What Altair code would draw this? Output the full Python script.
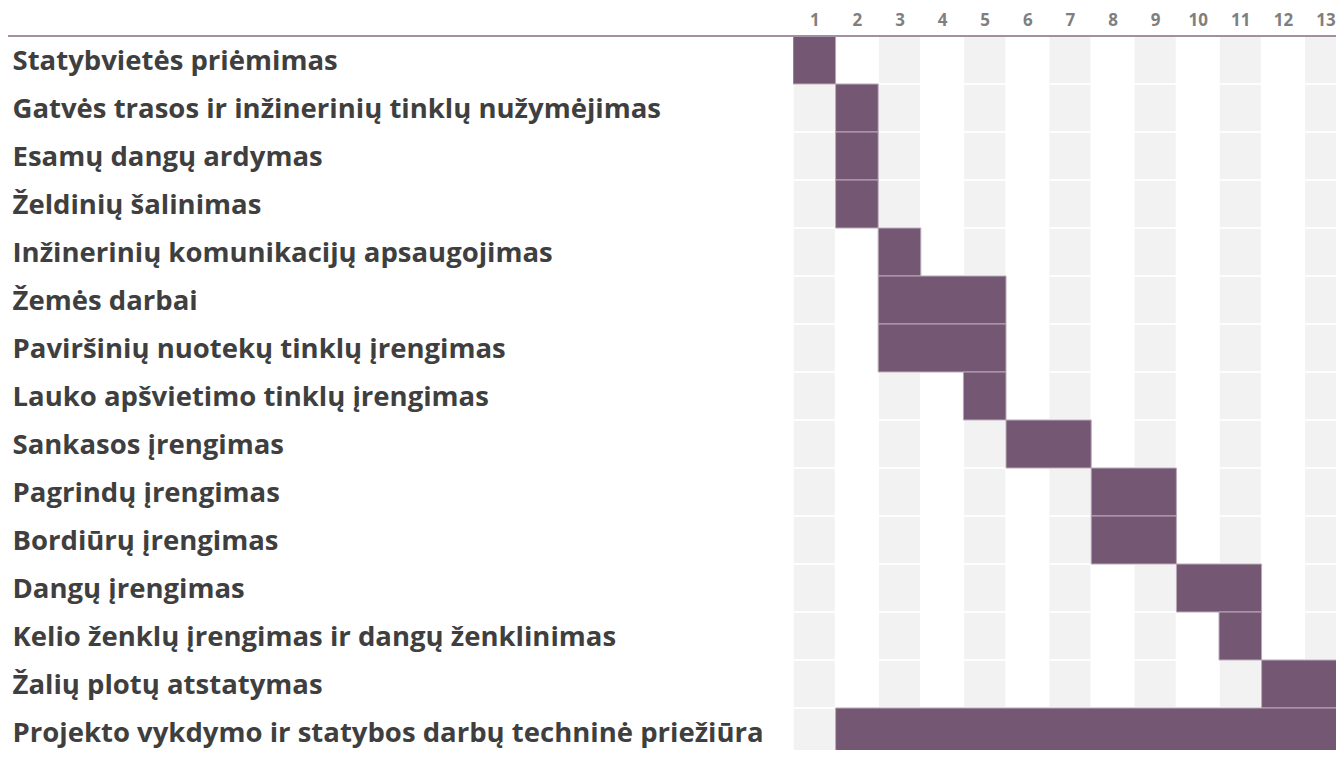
import json
import altair as alt
import pandas as pd

tasks = [
    "Statybvietės priėmimas",
    "Gatvės trasos ir inžinerinių tinklų nužymėjimas",
    "Esamų dangų ardymas",
    "Želdinių šalinimas",
    "Inžinerinių komunikacijų apsaugojimas",
    "Žemės darbai",
    "Paviršinių nuotekų tinklų įrengimas",
    "Lauko apšvietimo tinklų įrengimas",
    "Sankasos įrengimas",
    "Pagrindų įrengimas",
    "Bordiūrų įrengimas",
    "Dangų įrengimas",
    "Kelio ženklų įrengimas ir dangų ženklinimas",
    "Žalių plotų atstatymas",
    "Projekto vykdymo ir statybos darbų techninė priežiūra",
]
start_col = [1, 2, 2, 2, 3, 3, 3, 5, 6, 8, 8, 10, 11, 12, 2]
end_col = [1, 2, 2, 2, 3, 5, 5, 5, 7, 9, 9, 11, 11, 13, 13]
periods = list(range(1, 14))

bars = pd.DataFrame({
    "task": tasks,
    "row": list(range(len(tasks))),
    "start": start_col,
    "end": end_col,
})
bars["x0"] = bars["start"] - 0.5
bars["x1"] = bars["end"] + 0.5
bars["y0"] = bars["row"]
bars["y1"] = bars["row"] + 1

cells = pd.DataFrame(
    [(r, c) for r in range(len(tasks)) for c in periods if c % 2 == 1],
    columns=["row", "col"],
)
cells["x0"] = cells["col"] - 0.5
cells["x1"] = cells["col"] + 0.5
cells["y0"] = cells["row"]
cells["y1"] = cells["row"] + 1

W, H = 543, 714
COLW, ROWH = 42.6, 48.0
xscale = alt.Scale(domain=[0.5, 0.5 + W / COLW], nice=False, zero=False)
yscale = alt.Scale(domain=[0, H / ROWH], nice=False, zero=False, reverse=True)

label_expr = json.dumps(tasks, ensure_ascii=False) + "[floor(datum.value)]"

x_axis = alt.Axis(
    orient="top", values=periods, format="d", title=None,
    domain=False, ticks=False, grid=False,
    labelFont="Open Sans", labelFontSize=17, labelFontWeight="bold",
    labelColor="#7f7f7f", labelPadding=7, labelBound=False, labelFlush=False,
    labelOverlap=False,
)
y_axis = alt.Axis(
    orient="left", values=[i + 0.5 for i in range(len(tasks))],
    labelExpr=label_expr, title=None, domain=False, ticks=False, grid=False,
    labelFont="Open Sans", labelFontSize=27.5, labelFontWeight="bold",
    labelColor="#3f3f3f", labelAlign="left", labelBaseline="middle",
    labelPadding=781, labelLimit=0, labelOverlap=False, labelBound=False,
    labelFlush=False, labelOffset=1.5,
)

bg = alt.Chart(cells).mark_rect(
    fill="#f2f2f2", stroke="#ffffff", strokeWidth=1.5, clip=True
).encode(
    x=alt.X("x0:Q", scale=xscale, axis=x_axis),
    x2="x1:Q",
    y=alt.Y("y0:Q", scale=yscale, axis=y_axis),
    y2="y1:Q",
)

bar = alt.Chart(bars).mark_rect(
    fill="#745873", stroke="#b9a9b8", strokeWidth=1, clip=True
).encode(
    x=alt.X("x0:Q", scale=xscale),
    x2="x1:Q",
    y=alt.Y("y0:Q", scale=yscale),
    y2="y1:Q",
)

header = alt.Chart(pd.DataFrame({"a": [0]})).mark_rule(
    color="#a38fa2", strokeWidth=2
).encode(
    x=alt.value(-785), x2=alt.value(W), y=alt.value(0)
)

chart = alt.layer(bg, bar, header).properties(
    width=W, height=H,
    autosize=alt.AutoSizeParams(type="none"),
    padding={"left": 785, "top": 28, "right": 0, "bottom": 0},
).configure_view(stroke=None).configure(background="#ffffff")

chart.save("out.html", embed_options={"renderer": "svg", "actions": False})
